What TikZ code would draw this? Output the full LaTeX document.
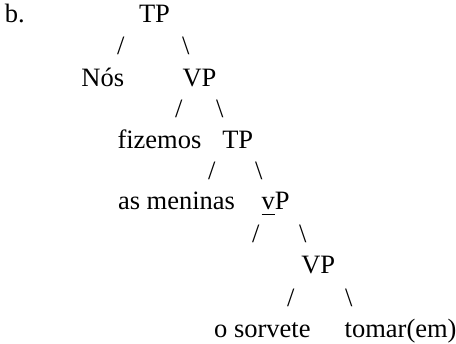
\documentclass[tikz,border=0pt]{standalone}
\usepackage{fontspec}
\setmainfont{Liberation Serif}
\newfontfamily\tnrfont{Liberation Serif}
\newcommand{\ulv}{{\setbox0\hbox{v}\rlap{\rule[-5pt]{\wd0}{1.4pt}}v}}
\begin{document}
\begin{tikzpicture}[x=1pt,y=-1pt,
  txt/.style={anchor=base west,inner sep=0pt,outer sep=0pt,
    font=\tnrfont\fontsize{26.5pt}{31.5pt}\selectfont}]
\useasboundingbox (0,0) rectangle (456,344);
% row 0
\node[txt] (lbl) at (5,22.7) {b.};
\node[txt] (tp1) at (139,22.7) {TP};
\node[txt] (s1l) at (117,54.6) {/};
\node[txt] (s1r) at (182,54.6) {\textbackslash};
% row 1
\node[txt] (nos) at (81.4,86.7) {Nós};
\node[txt] (vp1) at (182.6,86.7) {VP};
\node[txt] (s2l) at (175,117.3) {/};
\node[txt] (s2r) at (216,117.3) {\textbackslash};
% row 2
\node[txt] (fiz) at (117.5,148.3) {fizemos};
\node[txt] (tp2) at (222.3,148.3) {TP};
\node[txt] (s3l) at (208,179.2) {/};
\node[txt] (s3r) at (255,179.2) {\textbackslash};
% row 3
\node[txt] (men) at (118,210) {as meninas};
\node[txt] (vsp) at (261.5,210) {\ulv P};
\node[txt] (s4l) at (252,243) {/};
\node[txt] (s4r) at (299,243) {\textbackslash};
% row 4
\node[txt] (vp2) at (301.3,274) {VP};
\node[txt] (s5l) at (287,306.8) {/};
\node[txt] (s5r) at (345,306.8) {\textbackslash};
% row 5
\node[txt] (sor) at (214.2,337.3) {o sorvete};
\node[txt] (tom) at (344.7,337.3) {tomar(em)};
\end{tikzpicture}
\end{document}
